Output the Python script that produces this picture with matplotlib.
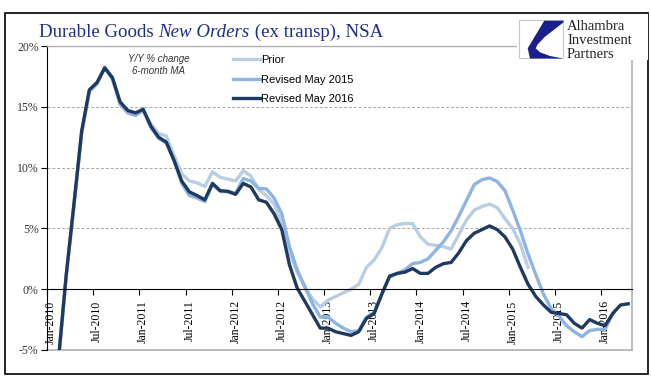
"""
Durable goods new orders (ex transp), Y/Y % change, 6-month MA.
"""
import numpy as np
import matplotlib
matplotlib.use("Agg")
import matplotlib.pyplot as plt
from matplotlib.patches import Rectangle, Polygon

#%% data (monthly, Jan-2010 onwards, %)
tick_labels = ['Jan-2010', 'Jul-2010', 'Jan-2011', 'Jul-2011', 'Jan-2012',
               'Jul-2012', 'Jan-2013', 'Jul-2013', 'Jan-2014', 'Jul-2014',
               'Jan-2015', 'Jul-2015', 'Jan-2016']

prior = [-12.0, -5.8, 1.1, 6.9, 12.8, 16.2, 16.9, 18.3, 17.3, 15.2,
         14.5, 14.3, 14.7, 13.6, 12.8, 12.6, 11.0, 9.5, 8.9, 8.75,
         8.45, 9.65, 9.2, 9.05, 8.9, 9.75, 9.3, 8.2, 7.7, 7.0,
         5.4, 3.0, 1.4, 0.2, -0.8, -1.45, -0.9, -0.6, -0.3, 0.0,
         0.4, 1.8, 2.4, 3.4, 5.0, 5.3, 5.4, 5.4, 4.3, 3.7,
         3.6, 3.5, 3.3, 4.5, 5.7, 6.5, 6.8, 7.0, 6.7, 5.8,
         5.0, 3.7, 1.8]

rev_2015 = [-12.0, -5.8, 1.1, 6.9, 12.8, 16.3, 16.9, 18.2, 17.3, 15.2,
            14.5, 14.3, 14.7, 13.3, 12.4, 12.0, 10.6, 8.7, 7.7, 7.5,
            7.2, 8.6, 8.05, 8.0, 7.9, 9.1, 8.9, 8.3, 8.25, 7.5,
            6.2, 3.5, 1.6, 0.2, -1.2, -2.3, -2.3, -2.8, -3.2, -3.5,
            -3.4, -2.3, -1.9, -0.4, 1.0, 1.3, 1.6, 2.1, 2.2, 2.5,
            3.2, 3.9, 4.8, 6.0, 7.3, 8.6, 9.0, 9.15, 8.85, 8.1,
            6.5, 4.8, 2.9, 1.2, -0.4, -1.6, -2.2, -3.0, -3.5, -3.9,
            -3.4, -3.3, -3.3, -2.0]

rev_2016 = [-12.0, -5.7, 1.2, 7.0, 13.0, 16.4, 17.0, 18.2, 17.4, 15.4,
            14.7, 14.5, 14.8, 13.4, 12.5, 12.1, 10.6, 8.9, 8.0, 7.7,
            7.35, 8.7, 8.1, 8.05, 7.8, 8.7, 8.4, 7.35, 7.15, 6.2,
            4.9, 2.0, 0.1, -1.0, -2.1, -3.2, -3.2, -3.5, -3.65, -3.8,
            -3.5, -2.4, -2.0, -0.4, 1.07, 1.3, 1.4, 1.7, 1.3, 1.3,
            1.8, 2.1, 2.2, 3.0, 4.0, 4.6, 4.9, 5.2, 4.9, 4.3,
            3.3, 1.8, 0.4, -0.6, -1.3, -1.9, -2.0, -2.1, -2.8, -3.2,
            -2.5, -2.8, -3.0, -2.0, -1.3, -1.2]

series = [('Prior', prior, '#B9CDE5'),
          ('Revised May 2015', rev_2015, '#8EB4E3'),
          ('Revised May 2016', rev_2016, '#1F3A60')]

W, H = 651, 392
def px(x, y):
    # figure pixel (from top-left) -> figure fraction
    return x / W, 1 - y / H

serif = 'Liberation Serif'
sans = 'Liberation Sans'

fig = plt.figure(figsize=[W / 100, H / 100], dpi=100)
ax = fig.add_axes([47 / W, 1 - 350 / H, (632 - 47) / W, (350 - 46) / H])

n_months = len(rev_2016)
for label, vals, col in series:
    x = np.arange(len(vals)) + 0.5
    ax.plot(x, vals, color=col, lw=2.4, label=label, solid_joinstyle='round')

ax.set_xlim(0, n_months)
ax.set_ylim(-5, 20)

# y axis
yt = [-5, 0, 5, 10, 15, 20]
ax.set_yticks(yt)
ax.set_yticklabels(['{}%'.format(v) for v in yt], fontname=serif, fontsize=8.5, color='#333333')
ax.tick_params(axis='y', direction='out', length=4, width=0.8, pad=2)
for v in [5, 10, 15]:
    ax.axhline(v, color='#a6a6a6', lw=0.7, ls=(0, (3, 2)), zorder=0)
ax.axhline(-5, color='#b0b0b0', lw=1.2, clip_on=False, zorder=0)

# x axis along 0%
ax.spines['bottom'].set_position(('data', 0))
ax.spines['bottom'].set_color('black')
ax.spines['left'].set_color('black')
ax.spines['top'].set_color('#b0b0b0')
ax.spines['right'].set_color('#b0b0b0')
ax.spines['top'].set_linewidth(1.0)
ax.spines['right'].set_linewidth(1.2)
ax.set_xticks(np.arange(0, n_months, 6))
ax.set_xticklabels([])
ax.set_xticks(np.arange(0, n_months, 6) + 0.5, minor=True)
ax.set_xticklabels(tick_labels, minor=True, rotation=90, fontname=serif,
                   fontsize=8.5, va='top', ha='center')
ax.tick_params(axis='x', which='major', direction='out', length=4, width=0.8)
ax.tick_params(axis='x', which='minor', length=0, pad=8)

# legend
leg = ax.legend(loc='upper left', bbox_to_anchor=px(233, 55), bbox_transform=fig.transFigure,
                frameon=False, borderpad=0, borderaxespad=0, handlelength=2.4,
                handletextpad=0.1, labelspacing=0.86, prop={'family': sans, 'size': 8})

fig.text(*px(159, 65), 'Y/Y % change\n6-month MA', ha='center', va='center',
         fontsize=7, style='italic', family=sans, color='#333333', linespacing=1.35)

# outer frame
fig.patches.append(Rectangle(px(5, 374), 643 / W, 361 / H, transform=fig.transFigure,
                             fill=False, ec='black', lw=1.2))

# title, with italic middle part
title_parts = [('Durable Goods ', 'normal'), ('New Orders', 'italic'), (' (ex transp), NSA', 'normal')]
fig.canvas.draw()
renderer = fig.canvas.get_renderer()
xpos = 39
for txt, st in title_parts:
    t = fig.text(*px(xpos, 37), txt, fontsize=13.6, family=serif, style=st,
                 color='#1F2D86', va='baseline')
    bb = t.get_window_extent(renderer)
    xpos += bb.width

# logo
fig.patches.append(Rectangle(px(517, 60), 131 / W, 46 / H, transform=fig.transFigure,
                             fc='white', ec='none', zorder=5))
fig.patches.append(Rectangle(px(519, 58), 44 / W, 38 / H, transform=fig.transFigure,
                             fc='white', ec='#c8c8c8', lw=0.8, zorder=6))
sail = [(544.3, 20.7), (563.5, 20.7), (563.5, 22.3), (555, 29), (545, 36.7),
        (537.7, 44.3), (535.7, 48.3), (540, 52.3), (550, 56), (562.3, 58.3),
        (562.3, 58.5), (530, 58.5), (527.7, 48.3)]
fig.patches.append(Polygon([px(a, b) for a, b in sail], closed=True, transform=fig.transFigure,
                           fc='#1A1F8C', ec='none', zorder=7))
for i, word in enumerate(['Alhambra', 'Investment', 'Partners']):
    fig.text(*px(567, 30.5 + i * 13.5), word, fontsize=10.5, family=serif, color='#222222',
             va='baseline', zorder=8)

fig.savefig('out.png', dpi=100)
